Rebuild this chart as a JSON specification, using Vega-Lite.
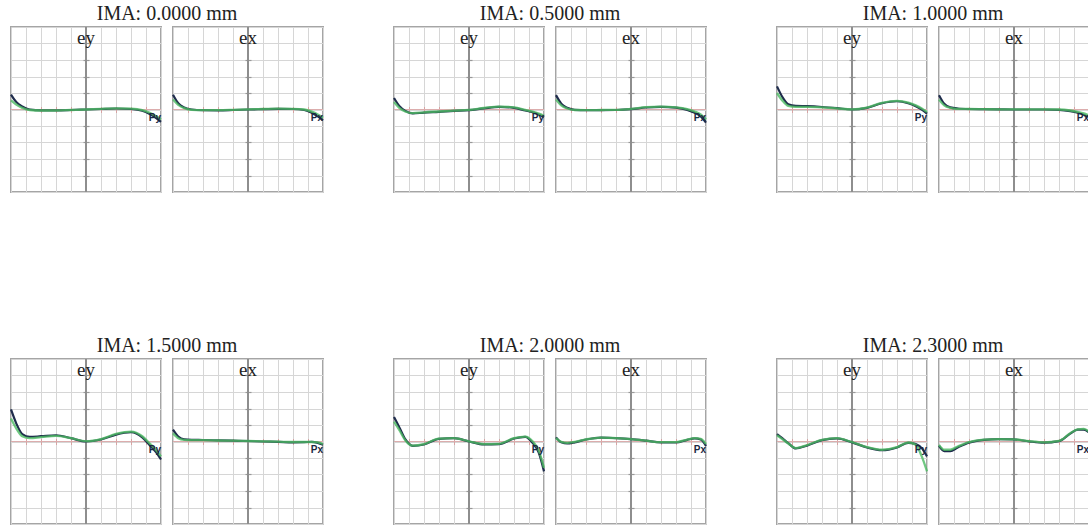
{
  "$schema": "https://vega.github.io/schema/vega-lite/v6.json",
  "background": "white",
  "padding": {"left": 5, "top": 4, "right": 0, "bottom": 0},
  "config": {
    "view": {"stroke": "#a5a5a5", "strokeWidth": 2},
    "header": {"labels": false, "labelPadding": 0, "titleFont": "Liberation Serif", "titleFontSize": 20, "titleFontWeight": "normal", "titleColor": "#222222", "titlePadding": -9},
    "axis": {"labels": false, "domain": false, "title": null, "minExtent": 0, "maxExtent": 0}
  },
  "data": {"values": [
    {"i":0,"f":"ey","w":"d","p":-1,"e":0.9},{"i":0,"f":"ey","w":"d","p":-0.93,"e":0.45},{"i":0,"f":"ey","w":"d","p":-0.85,"e":0.18},{"i":0,"f":"ey","w":"d","p":-0.75,"e":0.0},{"i":0,"f":"ey","w":"d","p":-0.6,"e":-0.05},{"i":0,"f":"ey","w":"d","p":-0.4,"e":-0.05},{"i":0,"f":"ey","w":"d","p":-0.2,"e":-0.03},{"i":0,"f":"ey","w":"d","p":0,"e":0.0},{"i":0,"f":"ey","w":"d","p":0.2,"e":0.03},{"i":0,"f":"ey","w":"d","p":0.4,"e":0.06},{"i":0,"f":"ey","w":"d","p":0.6,"e":0.03},{"i":0,"f":"ey","w":"d","p":0.75,"e":-0.08},{"i":0,"f":"ey","w":"d","p":0.85,"e":-0.28},{"i":0,"f":"ey","w":"d","p":0.93,"e":-0.5},{"i":0,"f":"ey","w":"d","p":1,"e":-0.75},
    {"i":0,"f":"ey","w":"g","p":-1,"e":0.55},{"i":0,"f":"ey","w":"g","p":-0.93,"e":0.3},{"i":0,"f":"ey","w":"g","p":-0.85,"e":0.1},{"i":0,"f":"ey","w":"g","p":-0.75,"e":-0.03},{"i":0,"f":"ey","w":"g","p":-0.6,"e":-0.06},{"i":0,"f":"ey","w":"g","p":-0.4,"e":-0.06},{"i":0,"f":"ey","w":"g","p":-0.2,"e":-0.03},{"i":0,"f":"ey","w":"g","p":0,"e":0.0},{"i":0,"f":"ey","w":"g","p":0.2,"e":0.04},{"i":0,"f":"ey","w":"g","p":0.4,"e":0.07},{"i":0,"f":"ey","w":"g","p":0.6,"e":0.05},{"i":0,"f":"ey","w":"g","p":0.75,"e":-0.04},{"i":0,"f":"ey","w":"g","p":0.85,"e":-0.2},{"i":0,"f":"ey","w":"g","p":0.93,"e":-0.4},{"i":0,"f":"ey","w":"g","p":1,"e":-0.6},
    {"i":0,"f":"ex","w":"d","p":-1,"e":0.9},{"i":0,"f":"ex","w":"d","p":-0.93,"e":0.38},{"i":0,"f":"ex","w":"d","p":-0.85,"e":0.12},{"i":0,"f":"ex","w":"d","p":-0.75,"e":0.0},{"i":0,"f":"ex","w":"d","p":-0.6,"e":-0.04},{"i":0,"f":"ex","w":"d","p":-0.4,"e":-0.05},{"i":0,"f":"ex","w":"d","p":-0.2,"e":-0.03},{"i":0,"f":"ex","w":"d","p":0,"e":0.0},{"i":0,"f":"ex","w":"d","p":0.2,"e":0.02},{"i":0,"f":"ex","w":"d","p":0.4,"e":0.04},{"i":0,"f":"ex","w":"d","p":0.6,"e":0.03},{"i":0,"f":"ex","w":"d","p":0.75,"e":-0.03},{"i":0,"f":"ex","w":"d","p":0.85,"e":-0.2},{"i":0,"f":"ex","w":"d","p":0.93,"e":-0.42},{"i":0,"f":"ex","w":"d","p":1,"e":-0.65},
    {"i":0,"f":"ex","w":"g","p":-1,"e":0.6},{"i":0,"f":"ex","w":"g","p":-0.93,"e":0.28},{"i":0,"f":"ex","w":"g","p":-0.85,"e":0.08},{"i":0,"f":"ex","w":"g","p":-0.75,"e":-0.02},{"i":0,"f":"ex","w":"g","p":-0.6,"e":-0.04},{"i":0,"f":"ex","w":"g","p":-0.4,"e":-0.04},{"i":0,"f":"ex","w":"g","p":-0.2,"e":-0.02},{"i":0,"f":"ex","w":"g","p":0,"e":0.01},{"i":0,"f":"ex","w":"g","p":0.2,"e":0.03},{"i":0,"f":"ex","w":"g","p":0.4,"e":0.05},{"i":0,"f":"ex","w":"g","p":0.6,"e":0.04},{"i":0,"f":"ex","w":"g","p":0.75,"e":0.0},{"i":0,"f":"ex","w":"g","p":0.85,"e":-0.13},{"i":0,"f":"ex","w":"g","p":0.93,"e":-0.3},{"i":0,"f":"ex","w":"g","p":1,"e":-0.5},

    {"i":0.5,"f":"ey","w":"d","p":-1,"e":0.7},{"i":0.5,"f":"ey","w":"d","p":-0.93,"e":0.22},{"i":0.5,"f":"ey","w":"d","p":-0.85,"e":-0.08},{"i":0.5,"f":"ey","w":"d","p":-0.75,"e":-0.24},{"i":0.5,"f":"ey","w":"d","p":-0.6,"e":-0.19},{"i":0.5,"f":"ey","w":"d","p":-0.4,"e":-0.14},{"i":0.5,"f":"ey","w":"d","p":-0.2,"e":-0.08},{"i":0.5,"f":"ey","w":"d","p":0,"e":-0.04},{"i":0.5,"f":"ey","w":"d","p":0.2,"e":0.07},{"i":0.5,"f":"ey","w":"d","p":0.4,"e":0.16},{"i":0.5,"f":"ey","w":"d","p":0.6,"e":0.1},{"i":0.5,"f":"ey","w":"d","p":0.75,"e":-0.06},{"i":0.5,"f":"ey","w":"d","p":0.85,"e":-0.17},{"i":0.5,"f":"ey","w":"d","p":0.93,"e":-0.3},{"i":0.5,"f":"ey","w":"d","p":1,"e":-0.45},
    {"i":0.5,"f":"ey","w":"g","p":-1,"e":0.45},{"i":0.5,"f":"ey","w":"g","p":-0.93,"e":0.1},{"i":0.5,"f":"ey","w":"g","p":-0.85,"e":-0.12},{"i":0.5,"f":"ey","w":"g","p":-0.75,"e":-0.22},{"i":0.5,"f":"ey","w":"g","p":-0.6,"e":-0.17},{"i":0.5,"f":"ey","w":"g","p":-0.4,"e":-0.12},{"i":0.5,"f":"ey","w":"g","p":-0.2,"e":-0.07},{"i":0.5,"f":"ey","w":"g","p":0,"e":-0.02},{"i":0.5,"f":"ey","w":"g","p":0.2,"e":0.09},{"i":0.5,"f":"ey","w":"g","p":0.4,"e":0.18},{"i":0.5,"f":"ey","w":"g","p":0.6,"e":0.13},{"i":0.5,"f":"ey","w":"g","p":0.75,"e":-0.02},{"i":0.5,"f":"ey","w":"g","p":0.85,"e":-0.13},{"i":0.5,"f":"ey","w":"g","p":0.93,"e":-0.25},{"i":0.5,"f":"ey","w":"g","p":1,"e":-0.38},
    {"i":0.5,"f":"ex","w":"d","p":-1,"e":0.87},{"i":0.5,"f":"ex","w":"d","p":-0.93,"e":0.35},{"i":0.5,"f":"ex","w":"d","p":-0.85,"e":0.1},{"i":0.5,"f":"ex","w":"d","p":-0.75,"e":-0.02},{"i":0.5,"f":"ex","w":"d","p":-0.6,"e":-0.04},{"i":0.5,"f":"ex","w":"d","p":-0.4,"e":-0.04},{"i":0.5,"f":"ex","w":"d","p":-0.2,"e":-0.03},{"i":0.5,"f":"ex","w":"d","p":0,"e":0.02},{"i":0.5,"f":"ex","w":"d","p":0.2,"e":0.12},{"i":0.5,"f":"ex","w":"d","p":0.4,"e":0.16},{"i":0.5,"f":"ex","w":"d","p":0.6,"e":0.11},{"i":0.5,"f":"ex","w":"d","p":0.75,"e":-0.02},{"i":0.5,"f":"ex","w":"d","p":0.85,"e":-0.2},{"i":0.5,"f":"ex","w":"d","p":0.93,"e":-0.42},{"i":0.5,"f":"ex","w":"d","p":1,"e":-0.8},
    {"i":0.5,"f":"ex","w":"g","p":-1,"e":0.6},{"i":0.5,"f":"ex","w":"g","p":-0.93,"e":0.25},{"i":0.5,"f":"ex","w":"g","p":-0.85,"e":0.06},{"i":0.5,"f":"ex","w":"g","p":-0.75,"e":-0.03},{"i":0.5,"f":"ex","w":"g","p":-0.6,"e":-0.04},{"i":0.5,"f":"ex","w":"g","p":-0.4,"e":-0.03},{"i":0.5,"f":"ex","w":"g","p":-0.2,"e":-0.02},{"i":0.5,"f":"ex","w":"g","p":0,"e":0.04},{"i":0.5,"f":"ex","w":"g","p":0.2,"e":0.14},{"i":0.5,"f":"ex","w":"g","p":0.4,"e":0.18},{"i":0.5,"f":"ex","w":"g","p":0.6,"e":0.13},{"i":0.5,"f":"ex","w":"g","p":0.75,"e":0.02},{"i":0.5,"f":"ex","w":"g","p":0.85,"e":-0.12},{"i":0.5,"f":"ex","w":"g","p":0.93,"e":-0.3},{"i":0.5,"f":"ex","w":"g","p":1,"e":-0.6},

    {"i":1,"f":"ey","w":"d","p":-1,"e":1.4},{"i":1,"f":"ey","w":"d","p":-0.93,"e":0.77},{"i":1,"f":"ey","w":"d","p":-0.85,"e":0.32},{"i":1,"f":"ey","w":"d","p":-0.75,"e":0.22},{"i":1,"f":"ey","w":"d","p":-0.6,"e":0.2},{"i":1,"f":"ey","w":"d","p":-0.4,"e":0.15},{"i":1,"f":"ey","w":"d","p":-0.2,"e":0.08},{"i":1,"f":"ey","w":"d","p":0,"e":0.0},{"i":1,"f":"ey","w":"d","p":0.2,"e":0.1},{"i":1,"f":"ey","w":"d","p":0.4,"e":0.38},{"i":1,"f":"ey","w":"d","p":0.6,"e":0.5},{"i":1,"f":"ey","w":"d","p":0.75,"e":0.38},{"i":1,"f":"ey","w":"d","p":0.85,"e":0.2},{"i":1,"f":"ey","w":"d","p":0.93,"e":0.0},{"i":1,"f":"ey","w":"d","p":1,"e":-0.25},
    {"i":1,"f":"ey","w":"g","p":-1,"e":1.0},{"i":1,"f":"ey","w":"g","p":-0.93,"e":0.55},{"i":1,"f":"ey","w":"g","p":-0.85,"e":0.22},{"i":1,"f":"ey","w":"g","p":-0.75,"e":0.16},{"i":1,"f":"ey","w":"g","p":-0.6,"e":0.16},{"i":1,"f":"ey","w":"g","p":-0.4,"e":0.13},{"i":1,"f":"ey","w":"g","p":-0.2,"e":0.07},{"i":1,"f":"ey","w":"g","p":0,"e":0.01},{"i":1,"f":"ey","w":"g","p":0.2,"e":0.12},{"i":1,"f":"ey","w":"g","p":0.4,"e":0.4},{"i":1,"f":"ey","w":"g","p":0.6,"e":0.52},{"i":1,"f":"ey","w":"g","p":0.75,"e":0.42},{"i":1,"f":"ey","w":"g","p":0.85,"e":0.25},{"i":1,"f":"ey","w":"g","p":0.93,"e":0.06},{"i":1,"f":"ey","w":"g","p":1,"e":-0.15},
    {"i":1,"f":"ex","w":"d","p":-1,"e":0.87},{"i":1,"f":"ex","w":"d","p":-0.93,"e":0.35},{"i":1,"f":"ex","w":"d","p":-0.85,"e":0.13},{"i":1,"f":"ex","w":"d","p":-0.75,"e":0.06},{"i":1,"f":"ex","w":"d","p":-0.6,"e":0.03},{"i":1,"f":"ex","w":"d","p":-0.4,"e":0.02},{"i":1,"f":"ex","w":"d","p":-0.2,"e":0.01},{"i":1,"f":"ex","w":"d","p":0,"e":0.0},{"i":1,"f":"ex","w":"d","p":0.2,"e":0.0},{"i":1,"f":"ex","w":"d","p":0.4,"e":0.0},{"i":1,"f":"ex","w":"d","p":0.6,"e":-0.02},{"i":1,"f":"ex","w":"d","p":0.75,"e":-0.1},{"i":1,"f":"ex","w":"d","p":0.85,"e":-0.2},{"i":1,"f":"ex","w":"d","p":0.93,"e":-0.32},{"i":1,"f":"ex","w":"d","p":1,"e":-0.45},
    {"i":1,"f":"ex","w":"g","p":-1,"e":0.6},{"i":1,"f":"ex","w":"g","p":-0.93,"e":0.25},{"i":1,"f":"ex","w":"g","p":-0.85,"e":0.1},{"i":1,"f":"ex","w":"g","p":-0.75,"e":0.04},{"i":1,"f":"ex","w":"g","p":-0.6,"e":0.03},{"i":1,"f":"ex","w":"g","p":-0.4,"e":0.02},{"i":1,"f":"ex","w":"g","p":-0.2,"e":0.01},{"i":1,"f":"ex","w":"g","p":0,"e":0.01},{"i":1,"f":"ex","w":"g","p":0.2,"e":0.01},{"i":1,"f":"ex","w":"g","p":0.4,"e":0.01},{"i":1,"f":"ex","w":"g","p":0.6,"e":0.0},{"i":1,"f":"ex","w":"g","p":0.75,"e":-0.06},{"i":1,"f":"ex","w":"g","p":0.85,"e":-0.14},{"i":1,"f":"ex","w":"g","p":0.93,"e":-0.24},{"i":1,"f":"ex","w":"g","p":1,"e":-0.35},

    {"i":1.5,"f":"ey","w":"d","p":-1,"e":1.94},{"i":1.5,"f":"ey","w":"d","p":-0.93,"e":1.1},{"i":1.5,"f":"ey","w":"d","p":-0.85,"e":0.45},{"i":1.5,"f":"ey","w":"d","p":-0.75,"e":0.28},{"i":1.5,"f":"ey","w":"d","p":-0.6,"e":0.32},{"i":1.5,"f":"ey","w":"d","p":-0.4,"e":0.38},{"i":1.5,"f":"ey","w":"d","p":-0.2,"e":0.2},{"i":1.5,"f":"ey","w":"d","p":0,"e":0.0},{"i":1.5,"f":"ey","w":"d","p":0.2,"e":0.12},{"i":1.5,"f":"ey","w":"d","p":0.4,"e":0.42},{"i":1.5,"f":"ey","w":"d","p":0.6,"e":0.56},{"i":1.5,"f":"ey","w":"d","p":0.75,"e":0.25},{"i":1.5,"f":"ey","w":"d","p":0.85,"e":-0.22},{"i":1.5,"f":"ey","w":"d","p":0.93,"e":-0.62},{"i":1.5,"f":"ey","w":"d","p":1,"e":-1.09},
    {"i":1.5,"f":"ey","w":"g","p":-1,"e":1.4},{"i":1.5,"f":"ey","w":"g","p":-0.93,"e":0.8},{"i":1.5,"f":"ey","w":"g","p":-0.85,"e":0.32},{"i":1.5,"f":"ey","w":"g","p":-0.75,"e":0.2},{"i":1.5,"f":"ey","w":"g","p":-0.6,"e":0.26},{"i":1.5,"f":"ey","w":"g","p":-0.4,"e":0.34},{"i":1.5,"f":"ey","w":"g","p":-0.2,"e":0.2},{"i":1.5,"f":"ey","w":"g","p":0,"e":0.02},{"i":1.5,"f":"ey","w":"g","p":0.2,"e":0.15},{"i":1.5,"f":"ey","w":"g","p":0.4,"e":0.46},{"i":1.5,"f":"ey","w":"g","p":0.6,"e":0.6},{"i":1.5,"f":"ey","w":"g","p":0.75,"e":0.32},{"i":1.5,"f":"ey","w":"g","p":0.85,"e":-0.12},{"i":1.5,"f":"ey","w":"g","p":0.93,"e":-0.5},{"i":1.5,"f":"ey","w":"g","p":1,"e":-0.9},
    {"i":1.5,"f":"ex","w":"d","p":-1,"e":0.72},{"i":1.5,"f":"ex","w":"d","p":-0.93,"e":0.3},{"i":1.5,"f":"ex","w":"d","p":-0.85,"e":0.13},{"i":1.5,"f":"ex","w":"d","p":-0.75,"e":0.1},{"i":1.5,"f":"ex","w":"d","p":-0.6,"e":0.09},{"i":1.5,"f":"ex","w":"d","p":-0.4,"e":0.07},{"i":1.5,"f":"ex","w":"d","p":-0.2,"e":0.05},{"i":1.5,"f":"ex","w":"d","p":0,"e":0.03},{"i":1.5,"f":"ex","w":"d","p":0.2,"e":0.0},{"i":1.5,"f":"ex","w":"d","p":0.4,"e":-0.02},{"i":1.5,"f":"ex","w":"d","p":0.6,"e":-0.05},{"i":1.5,"f":"ex","w":"d","p":0.75,"e":-0.04},{"i":1.5,"f":"ex","w":"d","p":0.85,"e":-0.02},{"i":1.5,"f":"ex","w":"d","p":0.93,"e":-0.08},{"i":1.5,"f":"ex","w":"d","p":1,"e":-0.2},
    {"i":1.5,"f":"ex","w":"g","p":-1,"e":0.5},{"i":1.5,"f":"ex","w":"g","p":-0.93,"e":0.2},{"i":1.5,"f":"ex","w":"g","p":-0.85,"e":0.1},{"i":1.5,"f":"ex","w":"g","p":-0.75,"e":0.08},{"i":1.5,"f":"ex","w":"g","p":-0.6,"e":0.08},{"i":1.5,"f":"ex","w":"g","p":-0.4,"e":0.06},{"i":1.5,"f":"ex","w":"g","p":-0.2,"e":0.05},{"i":1.5,"f":"ex","w":"g","p":0,"e":0.03},{"i":1.5,"f":"ex","w":"g","p":0.2,"e":0.01},{"i":1.5,"f":"ex","w":"g","p":0.4,"e":-0.01},{"i":1.5,"f":"ex","w":"g","p":0.6,"e":-0.03},{"i":1.5,"f":"ex","w":"g","p":0.75,"e":-0.03},{"i":1.5,"f":"ex","w":"g","p":0.85,"e":-0.03},{"i":1.5,"f":"ex","w":"g","p":0.93,"e":-0.06},{"i":1.5,"f":"ex","w":"g","p":1,"e":-0.15},

    {"i":2,"f":"ey","w":"d","p":-1,"e":1.48},{"i":2,"f":"ey","w":"d","p":-0.93,"e":0.87},{"i":2,"f":"ey","w":"d","p":-0.85,"e":0.14},{"i":2,"f":"ey","w":"d","p":-0.75,"e":-0.26},{"i":2,"f":"ey","w":"d","p":-0.6,"e":-0.18},{"i":2,"f":"ey","w":"d","p":-0.4,"e":0.16},{"i":2,"f":"ey","w":"d","p":-0.2,"e":0.2},{"i":2,"f":"ey","w":"d","p":0,"e":0.0},{"i":2,"f":"ey","w":"d","p":0.2,"e":-0.18},{"i":2,"f":"ey","w":"d","p":0.4,"e":-0.16},{"i":2,"f":"ey","w":"d","p":0.6,"e":0.18},{"i":2,"f":"ey","w":"d","p":0.75,"e":0.28},{"i":2,"f":"ey","w":"d","p":0.85,"e":-0.1},{"i":2,"f":"ey","w":"d","p":0.93,"e":-0.68},{"i":2,"f":"ey","w":"d","p":1,"e":-1.81},
    {"i":2,"f":"ey","w":"g","p":-1,"e":1.2},{"i":2,"f":"ey","w":"g","p":-0.93,"e":0.7},{"i":2,"f":"ey","w":"g","p":-0.85,"e":0.08},{"i":2,"f":"ey","w":"g","p":-0.75,"e":-0.25},{"i":2,"f":"ey","w":"g","p":-0.6,"e":-0.16},{"i":2,"f":"ey","w":"g","p":-0.4,"e":0.17},{"i":2,"f":"ey","w":"g","p":-0.2,"e":0.2},{"i":2,"f":"ey","w":"g","p":0,"e":0.01},{"i":2,"f":"ey","w":"g","p":0.2,"e":-0.16},{"i":2,"f":"ey","w":"g","p":0.4,"e":-0.14},{"i":2,"f":"ey","w":"g","p":0.6,"e":0.2},{"i":2,"f":"ey","w":"g","p":0.75,"e":0.3},{"i":2,"f":"ey","w":"g","p":0.85,"e":0.0},{"i":2,"f":"ey","w":"g","p":0.93,"e":-0.55},{"i":2,"f":"ey","w":"g","p":1,"e":-1.6},
    {"i":2,"f":"ex","w":"d","p":-1,"e":0.25},{"i":2,"f":"ex","w":"d","p":-0.93,"e":-0.05},{"i":2,"f":"ex","w":"d","p":-0.85,"e":-0.12},{"i":2,"f":"ex","w":"d","p":-0.75,"e":-0.05},{"i":2,"f":"ex","w":"d","p":-0.6,"e":0.12},{"i":2,"f":"ex","w":"d","p":-0.4,"e":0.24},{"i":2,"f":"ex","w":"d","p":-0.2,"e":0.2},{"i":2,"f":"ex","w":"d","p":0,"e":0.14},{"i":2,"f":"ex","w":"d","p":0.2,"e":0.05},{"i":2,"f":"ex","w":"d","p":0.4,"e":-0.05},{"i":2,"f":"ex","w":"d","p":0.6,"e":-0.06},{"i":2,"f":"ex","w":"d","p":0.75,"e":0.1},{"i":2,"f":"ex","w":"d","p":0.85,"e":0.19},{"i":2,"f":"ex","w":"d","p":0.93,"e":0.12},{"i":2,"f":"ex","w":"d","p":1,"e":-0.27},
    {"i":2,"f":"ex","w":"g","p":-1,"e":0.2},{"i":2,"f":"ex","w":"g","p":-0.93,"e":-0.02},{"i":2,"f":"ex","w":"g","p":-0.85,"e":-0.08},{"i":2,"f":"ex","w":"g","p":-0.75,"e":-0.02},{"i":2,"f":"ex","w":"g","p":-0.6,"e":0.13},{"i":2,"f":"ex","w":"g","p":-0.4,"e":0.24},{"i":2,"f":"ex","w":"g","p":-0.2,"e":0.2},{"i":2,"f":"ex","w":"g","p":0,"e":0.14},{"i":2,"f":"ex","w":"g","p":0.2,"e":0.05},{"i":2,"f":"ex","w":"g","p":0.4,"e":-0.04},{"i":2,"f":"ex","w":"g","p":0.6,"e":-0.04},{"i":2,"f":"ex","w":"g","p":0.75,"e":0.12},{"i":2,"f":"ex","w":"g","p":0.85,"e":0.2},{"i":2,"f":"ex","w":"g","p":0.93,"e":0.16},{"i":2,"f":"ex","w":"g","p":1,"e":-0.15},

    {"i":2.3,"f":"ey","w":"d","p":-1,"e":0.45},{"i":2.3,"f":"ey","w":"d","p":-0.93,"e":0.2},{"i":2.3,"f":"ey","w":"d","p":-0.85,"e":-0.1},{"i":2.3,"f":"ey","w":"d","p":-0.75,"e":-0.42},{"i":2.3,"f":"ey","w":"d","p":-0.6,"e":-0.25},{"i":2.3,"f":"ey","w":"d","p":-0.4,"e":0.08},{"i":2.3,"f":"ey","w":"d","p":-0.2,"e":0.19},{"i":2.3,"f":"ey","w":"d","p":0,"e":-0.05},{"i":2.3,"f":"ey","w":"d","p":0.2,"e":-0.36},{"i":2.3,"f":"ey","w":"d","p":0.4,"e":-0.53},{"i":2.3,"f":"ey","w":"d","p":0.6,"e":-0.36},{"i":2.3,"f":"ey","w":"d","p":0.75,"e":-0.08},{"i":2.3,"f":"ey","w":"d","p":0.85,"e":-0.15},{"i":2.3,"f":"ey","w":"d","p":0.93,"e":-0.4},{"i":2.3,"f":"ey","w":"d","p":1,"e":-0.9},
    {"i":2.3,"f":"ey","w":"g","p":-1,"e":0.38},{"i":2.3,"f":"ey","w":"g","p":-0.93,"e":0.15},{"i":2.3,"f":"ey","w":"g","p":-0.85,"e":-0.12},{"i":2.3,"f":"ey","w":"g","p":-0.75,"e":-0.4},{"i":2.3,"f":"ey","w":"g","p":-0.6,"e":-0.22},{"i":2.3,"f":"ey","w":"g","p":-0.4,"e":0.1},{"i":2.3,"f":"ey","w":"g","p":-0.2,"e":0.2},{"i":2.3,"f":"ey","w":"g","p":0,"e":-0.04},{"i":2.3,"f":"ey","w":"g","p":0.2,"e":-0.34},{"i":2.3,"f":"ey","w":"g","p":0.4,"e":-0.5},{"i":2.3,"f":"ey","w":"g","p":0.6,"e":-0.34},{"i":2.3,"f":"ey","w":"g","p":0.75,"e":-0.06},{"i":2.3,"f":"ey","w":"g","p":0.85,"e":-0.2},{"i":2.3,"f":"ey","w":"g","p":0.93,"e":-0.9},{"i":2.3,"f":"ey","w":"g","p":1,"e":-1.81},
    {"i":2.3,"f":"ex","w":"d","p":-1,"e":-0.27},{"i":2.3,"f":"ex","w":"d","p":-0.93,"e":-0.58},{"i":2.3,"f":"ex","w":"d","p":-0.85,"e":-0.58},{"i":2.3,"f":"ex","w":"d","p":-0.75,"e":-0.36},{"i":2.3,"f":"ex","w":"d","p":-0.6,"e":-0.07},{"i":2.3,"f":"ex","w":"d","p":-0.4,"e":0.1},{"i":2.3,"f":"ex","w":"d","p":-0.2,"e":0.15},{"i":2.3,"f":"ex","w":"d","p":0,"e":0.13},{"i":2.3,"f":"ex","w":"d","p":0.2,"e":0.01},{"i":2.3,"f":"ex","w":"d","p":0.4,"e":-0.07},{"i":2.3,"f":"ex","w":"d","p":0.6,"e":0.02},{"i":2.3,"f":"ex","w":"d","p":0.75,"e":0.48},{"i":2.3,"f":"ex","w":"d","p":0.85,"e":0.72},{"i":2.3,"f":"ex","w":"d","p":0.93,"e":0.72},{"i":2.3,"f":"ex","w":"d","p":1,"e":0.55},
    {"i":2.3,"f":"ex","w":"g","p":-1,"e":-0.2},{"i":2.3,"f":"ex","w":"g","p":-0.93,"e":-0.5},{"i":2.3,"f":"ex","w":"g","p":-0.85,"e":-0.5},{"i":2.3,"f":"ex","w":"g","p":-0.75,"e":-0.3},{"i":2.3,"f":"ex","w":"g","p":-0.6,"e":-0.04},{"i":2.3,"f":"ex","w":"g","p":-0.4,"e":0.11},{"i":2.3,"f":"ex","w":"g","p":-0.2,"e":0.15},{"i":2.3,"f":"ex","w":"g","p":0,"e":0.13},{"i":2.3,"f":"ex","w":"g","p":0.2,"e":0.02},{"i":2.3,"f":"ex","w":"g","p":0.4,"e":-0.05},{"i":2.3,"f":"ex","w":"g","p":0.6,"e":0.04},{"i":2.3,"f":"ex","w":"g","p":0.75,"e":0.5},{"i":2.3,"f":"ex","w":"g","p":0.85,"e":0.74},{"i":2.3,"f":"ex","w":"g","p":0.93,"e":0.76},{"i":2.3,"f":"ex","w":"g","p":1,"e":0.6}
  ]},
  "spacing": 142,
  "vconcat": [
    {"spacing": 59, "hconcat": [
      {"transform": [{"filter": "datum.i == 0"}], "facet": {"column": {"field": "f", "type": "nominal", "sort": ["ey", "ex"], "title": "IMA: 0.0000 mm"}}, "spacing": {"column": 0}, "resolve": {"axis": {"x": "independent", "y": "independent"}},
       "spec": {"width": 150, "height": 165, "resolve": {"axis": {"x": "independent", "y": "independent"}}, "layer": [
        {"transform": [{"filter": "datum.w == 'd' && datum.p == 1"}], "mark": {"type": "rule", "color": "#dcadad", "strokeWidth": 1.2}, "encoding": {"y": {"datum": 0, "type": "quantitative", "scale": {"domain": [-5, 5], "nice": false}, "axis": null}}},
        {"transform": [{"filter": "datum.w == 'd' && datum.p == 1"}], "mark": {"type": "rule", "color": "#8e8e8e", "strokeWidth": 2}, "encoding": {"x": {"datum": 0, "type": "quantitative", "scale": {"domain": [-1, 1], "nice": false}, "axis": null}}},
        {"transform": [{"filter": "datum.w == 'd'"}], "mark": {"type": "line", "color": "#1f2c4c", "strokeWidth": 2.2, "interpolate": "monotone"}, "encoding": {"x": {"field": "p", "type": "quantitative", "scale": {"domain": [-1, 1], "nice": false}, "axis": {"orient": "bottom", "values": [-1, -0.8, -0.6, -0.4, -0.2, 0, 0.2, 0.4, 0.6, 0.8, 1], "grid": true, "gridColor": "#d6d6d6", "ticks": false}}, "y": {"field": "e", "type": "quantitative", "scale": {"domain": [-5, 5], "nice": false}, "axis": {"orient": "left", "values": [-5, -4, -3, -2, -1, 0, 1, 2, 3, 4, 5], "grid": true, "gridColor": "#d6d6d6", "ticks": false}}}},
        {"transform": [{"filter": "datum.w == 'g'"}], "mark": {"type": "line", "color": "#4cba63", "strokeWidth": 2.3, "opacity": 0.8, "interpolate": "monotone"}, "encoding": {"x": {"field": "p", "type": "quantitative", "scale": {"domain": [-1, 1], "nice": false}, "axis": {"orient": "top", "values": [-0.8, -0.6, -0.4, -0.2, 0.2, 0.4, 0.6, 0.8], "grid": false, "ticks": true, "tickSize": 6, "tickColor": "#d7a3a3", "offset": -85.5}}, "y": {"field": "e", "type": "quantitative", "scale": {"domain": [-5, 5], "nice": false}, "axis": {"orient": "right", "values": [-4, -3, -2, -1, 1, 2, 3, 4], "grid": false, "ticks": true, "tickSize": 6, "tickWidth": 1.2, "tickColor": "#999999", "offset": -78}}}},
        {"transform": [{"filter": "datum.w == 'd' && datum.p == 1"}], "mark": {"type": "text", "font": "Liberation Serif", "fontSize": 19, "color": "#222222", "baseline": "alphabetic"}, "encoding": {"x": {"datum": 0, "type": "quantitative", "scale": {"domain": [-1, 1], "nice": false}, "axis": null}, "y": {"datum": 3.95, "type": "quantitative", "scale": {"domain": [-5, 5], "nice": false}, "axis": null}, "text": {"field": "f"}}},
        {"transform": [{"filter": "datum.w == 'd' && datum.p == 1"}, {"calculate": "datum.f == 'ey' ? 'Py' : 'Px'", "as": "a"}], "mark": {"type": "text", "font": "Liberation Sans", "fontWeight": "bold", "fontSize": 10, "color": "#1c2742", "align": "right", "baseline": "top"}, "encoding": {"x": {"datum": 1, "type": "quantitative", "scale": {"domain": [-1, 1], "nice": false}, "axis": null}, "y": {"datum": -0.2, "type": "quantitative", "scale": {"domain": [-5, 5], "nice": false}, "axis": null}, "text": {"field": "a"}}}
       ]}},
      {"transform": [{"filter": "datum.i == 0.5"}], "facet": {"column": {"field": "f", "type": "nominal", "sort": ["ey", "ex"], "title": "IMA: 0.5000 mm"}}, "spacing": {"column": 0}, "resolve": {"axis": {"x": "independent", "y": "independent"}},
       "spec": {"width": 150, "height": 165, "resolve": {"axis": {"x": "independent", "y": "independent"}}, "layer": [
        {"transform": [{"filter": "datum.w == 'd' && datum.p == 1"}], "mark": {"type": "rule", "color": "#dcadad", "strokeWidth": 1.2}, "encoding": {"y": {"datum": 0, "type": "quantitative", "scale": {"domain": [-5, 5], "nice": false}, "axis": null}}},
        {"transform": [{"filter": "datum.w == 'd' && datum.p == 1"}], "mark": {"type": "rule", "color": "#8e8e8e", "strokeWidth": 2}, "encoding": {"x": {"datum": 0, "type": "quantitative", "scale": {"domain": [-1, 1], "nice": false}, "axis": null}}},
        {"transform": [{"filter": "datum.w == 'd'"}], "mark": {"type": "line", "color": "#1f2c4c", "strokeWidth": 2.2, "interpolate": "monotone"}, "encoding": {"x": {"field": "p", "type": "quantitative", "scale": {"domain": [-1, 1], "nice": false}, "axis": {"orient": "bottom", "values": [-1, -0.8, -0.6, -0.4, -0.2, 0, 0.2, 0.4, 0.6, 0.8, 1], "grid": true, "gridColor": "#d6d6d6", "ticks": false}}, "y": {"field": "e", "type": "quantitative", "scale": {"domain": [-5, 5], "nice": false}, "axis": {"orient": "left", "values": [-5, -4, -3, -2, -1, 0, 1, 2, 3, 4, 5], "grid": true, "gridColor": "#d6d6d6", "ticks": false}}}},
        {"transform": [{"filter": "datum.w == 'g'"}], "mark": {"type": "line", "color": "#4cba63", "strokeWidth": 2.3, "opacity": 0.8, "interpolate": "monotone"}, "encoding": {"x": {"field": "p", "type": "quantitative", "scale": {"domain": [-1, 1], "nice": false}, "axis": {"orient": "top", "values": [-0.8, -0.6, -0.4, -0.2, 0.2, 0.4, 0.6, 0.8], "grid": false, "ticks": true, "tickSize": 6, "tickColor": "#d7a3a3", "offset": -85.5}}, "y": {"field": "e", "type": "quantitative", "scale": {"domain": [-5, 5], "nice": false}, "axis": {"orient": "right", "values": [-4, -3, -2, -1, 1, 2, 3, 4], "grid": false, "ticks": true, "tickSize": 6, "tickWidth": 1.2, "tickColor": "#999999", "offset": -78}}}},
        {"transform": [{"filter": "datum.w == 'd' && datum.p == 1"}], "mark": {"type": "text", "font": "Liberation Serif", "fontSize": 19, "color": "#222222", "baseline": "alphabetic"}, "encoding": {"x": {"datum": 0, "type": "quantitative", "scale": {"domain": [-1, 1], "nice": false}, "axis": null}, "y": {"datum": 3.95, "type": "quantitative", "scale": {"domain": [-5, 5], "nice": false}, "axis": null}, "text": {"field": "f"}}},
        {"transform": [{"filter": "datum.w == 'd' && datum.p == 1"}, {"calculate": "datum.f == 'ey' ? 'Py' : 'Px'", "as": "a"}], "mark": {"type": "text", "font": "Liberation Sans", "fontWeight": "bold", "fontSize": 10, "color": "#1c2742", "align": "right", "baseline": "top"}, "encoding": {"x": {"datum": 1, "type": "quantitative", "scale": {"domain": [-1, 1], "nice": false}, "axis": null}, "y": {"datum": -0.2, "type": "quantitative", "scale": {"domain": [-5, 5], "nice": false}, "axis": null}, "text": {"field": "a"}}}
       ]}},
      {"transform": [{"filter": "datum.i == 1"}], "facet": {"column": {"field": "f", "type": "nominal", "sort": ["ey", "ex"], "title": "IMA: 1.0000 mm"}}, "spacing": {"column": 0}, "resolve": {"axis": {"x": "independent", "y": "independent"}},
       "spec": {"width": 150, "height": 165, "resolve": {"axis": {"x": "independent", "y": "independent"}}, "layer": [
        {"transform": [{"filter": "datum.w == 'd' && datum.p == 1"}], "mark": {"type": "rule", "color": "#dcadad", "strokeWidth": 1.2}, "encoding": {"y": {"datum": 0, "type": "quantitative", "scale": {"domain": [-5, 5], "nice": false}, "axis": null}}},
        {"transform": [{"filter": "datum.w == 'd' && datum.p == 1"}], "mark": {"type": "rule", "color": "#8e8e8e", "strokeWidth": 2}, "encoding": {"x": {"datum": 0, "type": "quantitative", "scale": {"domain": [-1, 1], "nice": false}, "axis": null}}},
        {"transform": [{"filter": "datum.w == 'd'"}], "mark": {"type": "line", "color": "#1f2c4c", "strokeWidth": 2.2, "interpolate": "monotone"}, "encoding": {"x": {"field": "p", "type": "quantitative", "scale": {"domain": [-1, 1], "nice": false}, "axis": {"orient": "bottom", "values": [-1, -0.8, -0.6, -0.4, -0.2, 0, 0.2, 0.4, 0.6, 0.8, 1], "grid": true, "gridColor": "#d6d6d6", "ticks": false}}, "y": {"field": "e", "type": "quantitative", "scale": {"domain": [-5, 5], "nice": false}, "axis": {"orient": "left", "values": [-5, -4, -3, -2, -1, 0, 1, 2, 3, 4, 5], "grid": true, "gridColor": "#d6d6d6", "ticks": false}}}},
        {"transform": [{"filter": "datum.w == 'g'"}], "mark": {"type": "line", "color": "#4cba63", "strokeWidth": 2.3, "opacity": 0.8, "interpolate": "monotone"}, "encoding": {"x": {"field": "p", "type": "quantitative", "scale": {"domain": [-1, 1], "nice": false}, "axis": {"orient": "top", "values": [-0.8, -0.6, -0.4, -0.2, 0.2, 0.4, 0.6, 0.8], "grid": false, "ticks": true, "tickSize": 6, "tickColor": "#d7a3a3", "offset": -85.5}}, "y": {"field": "e", "type": "quantitative", "scale": {"domain": [-5, 5], "nice": false}, "axis": {"orient": "right", "values": [-4, -3, -2, -1, 1, 2, 3, 4], "grid": false, "ticks": true, "tickSize": 6, "tickWidth": 1.2, "tickColor": "#999999", "offset": -78}}}},
        {"transform": [{"filter": "datum.w == 'd' && datum.p == 1"}], "mark": {"type": "text", "font": "Liberation Serif", "fontSize": 19, "color": "#222222", "baseline": "alphabetic"}, "encoding": {"x": {"datum": 0, "type": "quantitative", "scale": {"domain": [-1, 1], "nice": false}, "axis": null}, "y": {"datum": 3.95, "type": "quantitative", "scale": {"domain": [-5, 5], "nice": false}, "axis": null}, "text": {"field": "f"}}},
        {"transform": [{"filter": "datum.w == 'd' && datum.p == 1"}, {"calculate": "datum.f == 'ey' ? 'Py' : 'Px'", "as": "a"}], "mark": {"type": "text", "font": "Liberation Sans", "fontWeight": "bold", "fontSize": 10, "color": "#1c2742", "align": "right", "baseline": "top"}, "encoding": {"x": {"datum": 1, "type": "quantitative", "scale": {"domain": [-1, 1], "nice": false}, "axis": null}, "y": {"datum": -0.2, "type": "quantitative", "scale": {"domain": [-5, 5], "nice": false}, "axis": null}, "text": {"field": "a"}}}
       ]}}
    ]},
    {"spacing": 59, "hconcat": [
      {"transform": [{"filter": "datum.i == 1.5"}], "facet": {"column": {"field": "f", "type": "nominal", "sort": ["ey", "ex"], "title": "IMA: 1.5000 mm"}}, "spacing": {"column": 0}, "resolve": {"axis": {"x": "independent", "y": "independent"}},
       "spec": {"width": 150, "height": 165, "resolve": {"axis": {"x": "independent", "y": "independent"}}, "layer": [
        {"transform": [{"filter": "datum.w == 'd' && datum.p == 1"}], "mark": {"type": "rule", "color": "#dcadad", "strokeWidth": 1.2}, "encoding": {"y": {"datum": 0, "type": "quantitative", "scale": {"domain": [-5, 5], "nice": false}, "axis": null}}},
        {"transform": [{"filter": "datum.w == 'd' && datum.p == 1"}], "mark": {"type": "rule", "color": "#8e8e8e", "strokeWidth": 2}, "encoding": {"x": {"datum": 0, "type": "quantitative", "scale": {"domain": [-1, 1], "nice": false}, "axis": null}}},
        {"transform": [{"filter": "datum.w == 'd'"}], "mark": {"type": "line", "color": "#1f2c4c", "strokeWidth": 2.2, "interpolate": "monotone"}, "encoding": {"x": {"field": "p", "type": "quantitative", "scale": {"domain": [-1, 1], "nice": false}, "axis": {"orient": "bottom", "values": [-1, -0.8, -0.6, -0.4, -0.2, 0, 0.2, 0.4, 0.6, 0.8, 1], "grid": true, "gridColor": "#d6d6d6", "ticks": false}}, "y": {"field": "e", "type": "quantitative", "scale": {"domain": [-5, 5], "nice": false}, "axis": {"orient": "left", "values": [-5, -4, -3, -2, -1, 0, 1, 2, 3, 4, 5], "grid": true, "gridColor": "#d6d6d6", "ticks": false}}}},
        {"transform": [{"filter": "datum.w == 'g'"}], "mark": {"type": "line", "color": "#4cba63", "strokeWidth": 2.3, "opacity": 0.8, "interpolate": "monotone"}, "encoding": {"x": {"field": "p", "type": "quantitative", "scale": {"domain": [-1, 1], "nice": false}, "axis": {"orient": "top", "values": [-0.8, -0.6, -0.4, -0.2, 0.2, 0.4, 0.6, 0.8], "grid": false, "ticks": true, "tickSize": 6, "tickColor": "#d7a3a3", "offset": -85.5}}, "y": {"field": "e", "type": "quantitative", "scale": {"domain": [-5, 5], "nice": false}, "axis": {"orient": "right", "values": [-4, -3, -2, -1, 1, 2, 3, 4], "grid": false, "ticks": true, "tickSize": 6, "tickWidth": 1.2, "tickColor": "#999999", "offset": -78}}}},
        {"transform": [{"filter": "datum.w == 'd' && datum.p == 1"}], "mark": {"type": "text", "font": "Liberation Serif", "fontSize": 19, "color": "#222222", "baseline": "alphabetic"}, "encoding": {"x": {"datum": 0, "type": "quantitative", "scale": {"domain": [-1, 1], "nice": false}, "axis": null}, "y": {"datum": 3.95, "type": "quantitative", "scale": {"domain": [-5, 5], "nice": false}, "axis": null}, "text": {"field": "f"}}},
        {"transform": [{"filter": "datum.w == 'd' && datum.p == 1"}, {"calculate": "datum.f == 'ey' ? 'Py' : 'Px'", "as": "a"}], "mark": {"type": "text", "font": "Liberation Sans", "fontWeight": "bold", "fontSize": 10, "color": "#1c2742", "align": "right", "baseline": "top"}, "encoding": {"x": {"datum": 1, "type": "quantitative", "scale": {"domain": [-1, 1], "nice": false}, "axis": null}, "y": {"datum": -0.2, "type": "quantitative", "scale": {"domain": [-5, 5], "nice": false}, "axis": null}, "text": {"field": "a"}}}
       ]}},
      {"transform": [{"filter": "datum.i == 2"}], "facet": {"column": {"field": "f", "type": "nominal", "sort": ["ey", "ex"], "title": "IMA: 2.0000 mm"}}, "spacing": {"column": 0}, "resolve": {"axis": {"x": "independent", "y": "independent"}},
       "spec": {"width": 150, "height": 165, "resolve": {"axis": {"x": "independent", "y": "independent"}}, "layer": [
        {"transform": [{"filter": "datum.w == 'd' && datum.p == 1"}], "mark": {"type": "rule", "color": "#dcadad", "strokeWidth": 1.2}, "encoding": {"y": {"datum": 0, "type": "quantitative", "scale": {"domain": [-5, 5], "nice": false}, "axis": null}}},
        {"transform": [{"filter": "datum.w == 'd' && datum.p == 1"}], "mark": {"type": "rule", "color": "#8e8e8e", "strokeWidth": 2}, "encoding": {"x": {"datum": 0, "type": "quantitative", "scale": {"domain": [-1, 1], "nice": false}, "axis": null}}},
        {"transform": [{"filter": "datum.w == 'd'"}], "mark": {"type": "line", "color": "#1f2c4c", "strokeWidth": 2.2, "interpolate": "monotone"}, "encoding": {"x": {"field": "p", "type": "quantitative", "scale": {"domain": [-1, 1], "nice": false}, "axis": {"orient": "bottom", "values": [-1, -0.8, -0.6, -0.4, -0.2, 0, 0.2, 0.4, 0.6, 0.8, 1], "grid": true, "gridColor": "#d6d6d6", "ticks": false}}, "y": {"field": "e", "type": "quantitative", "scale": {"domain": [-5, 5], "nice": false}, "axis": {"orient": "left", "values": [-5, -4, -3, -2, -1, 0, 1, 2, 3, 4, 5], "grid": true, "gridColor": "#d6d6d6", "ticks": false}}}},
        {"transform": [{"filter": "datum.w == 'g'"}], "mark": {"type": "line", "color": "#4cba63", "strokeWidth": 2.3, "opacity": 0.8, "interpolate": "monotone"}, "encoding": {"x": {"field": "p", "type": "quantitative", "scale": {"domain": [-1, 1], "nice": false}, "axis": {"orient": "top", "values": [-0.8, -0.6, -0.4, -0.2, 0.2, 0.4, 0.6, 0.8], "grid": false, "ticks": true, "tickSize": 6, "tickColor": "#d7a3a3", "offset": -85.5}}, "y": {"field": "e", "type": "quantitative", "scale": {"domain": [-5, 5], "nice": false}, "axis": {"orient": "right", "values": [-4, -3, -2, -1, 1, 2, 3, 4], "grid": false, "ticks": true, "tickSize": 6, "tickWidth": 1.2, "tickColor": "#999999", "offset": -78}}}},
        {"transform": [{"filter": "datum.w == 'd' && datum.p == 1"}], "mark": {"type": "text", "font": "Liberation Serif", "fontSize": 19, "color": "#222222", "baseline": "alphabetic"}, "encoding": {"x": {"datum": 0, "type": "quantitative", "scale": {"domain": [-1, 1], "nice": false}, "axis": null}, "y": {"datum": 3.95, "type": "quantitative", "scale": {"domain": [-5, 5], "nice": false}, "axis": null}, "text": {"field": "f"}}},
        {"transform": [{"filter": "datum.w == 'd' && datum.p == 1"}, {"calculate": "datum.f == 'ey' ? 'Py' : 'Px'", "as": "a"}], "mark": {"type": "text", "font": "Liberation Sans", "fontWeight": "bold", "fontSize": 10, "color": "#1c2742", "align": "right", "baseline": "top"}, "encoding": {"x": {"datum": 1, "type": "quantitative", "scale": {"domain": [-1, 1], "nice": false}, "axis": null}, "y": {"datum": -0.2, "type": "quantitative", "scale": {"domain": [-5, 5], "nice": false}, "axis": null}, "text": {"field": "a"}}}
       ]}},
      {"transform": [{"filter": "datum.i == 2.3"}], "facet": {"column": {"field": "f", "type": "nominal", "sort": ["ey", "ex"], "title": "IMA: 2.3000 mm"}}, "spacing": {"column": 0}, "resolve": {"axis": {"x": "independent", "y": "independent"}},
       "spec": {"width": 150, "height": 165, "resolve": {"axis": {"x": "independent", "y": "independent"}}, "layer": [
        {"transform": [{"filter": "datum.w == 'd' && datum.p == 1"}], "mark": {"type": "rule", "color": "#dcadad", "strokeWidth": 1.2}, "encoding": {"y": {"datum": 0, "type": "quantitative", "scale": {"domain": [-5, 5], "nice": false}, "axis": null}}},
        {"transform": [{"filter": "datum.w == 'd' && datum.p == 1"}], "mark": {"type": "rule", "color": "#8e8e8e", "strokeWidth": 2}, "encoding": {"x": {"datum": 0, "type": "quantitative", "scale": {"domain": [-1, 1], "nice": false}, "axis": null}}},
        {"transform": [{"filter": "datum.w == 'd'"}], "mark": {"type": "line", "color": "#1f2c4c", "strokeWidth": 2.2, "interpolate": "monotone"}, "encoding": {"x": {"field": "p", "type": "quantitative", "scale": {"domain": [-1, 1], "nice": false}, "axis": {"orient": "bottom", "values": [-1, -0.8, -0.6, -0.4, -0.2, 0, 0.2, 0.4, 0.6, 0.8, 1], "grid": true, "gridColor": "#d6d6d6", "ticks": false}}, "y": {"field": "e", "type": "quantitative", "scale": {"domain": [-5, 5], "nice": false}, "axis": {"orient": "left", "values": [-5, -4, -3, -2, -1, 0, 1, 2, 3, 4, 5], "grid": true, "gridColor": "#d6d6d6", "ticks": false}}}},
        {"transform": [{"filter": "datum.w == 'g'"}], "mark": {"type": "line", "color": "#4cba63", "strokeWidth": 2.3, "opacity": 0.8, "interpolate": "monotone"}, "encoding": {"x": {"field": "p", "type": "quantitative", "scale": {"domain": [-1, 1], "nice": false}, "axis": {"orient": "top", "values": [-0.8, -0.6, -0.4, -0.2, 0.2, 0.4, 0.6, 0.8], "grid": false, "ticks": true, "tickSize": 6, "tickColor": "#d7a3a3", "offset": -85.5}}, "y": {"field": "e", "type": "quantitative", "scale": {"domain": [-5, 5], "nice": false}, "axis": {"orient": "right", "values": [-4, -3, -2, -1, 1, 2, 3, 4], "grid": false, "ticks": true, "tickSize": 6, "tickWidth": 1.2, "tickColor": "#999999", "offset": -78}}}},
        {"transform": [{"filter": "datum.w == 'd' && datum.p == 1"}], "mark": {"type": "text", "font": "Liberation Serif", "fontSize": 19, "color": "#222222", "baseline": "alphabetic"}, "encoding": {"x": {"datum": 0, "type": "quantitative", "scale": {"domain": [-1, 1], "nice": false}, "axis": null}, "y": {"datum": 3.95, "type": "quantitative", "scale": {"domain": [-5, 5], "nice": false}, "axis": null}, "text": {"field": "f"}}},
        {"transform": [{"filter": "datum.w == 'd' && datum.p == 1"}, {"calculate": "datum.f == 'ey' ? 'Py' : 'Px'", "as": "a"}], "mark": {"type": "text", "font": "Liberation Sans", "fontWeight": "bold", "fontSize": 10, "color": "#1c2742", "align": "right", "baseline": "top"}, "encoding": {"x": {"datum": 1, "type": "quantitative", "scale": {"domain": [-1, 1], "nice": false}, "axis": null}, "y": {"datum": -0.2, "type": "quantitative", "scale": {"domain": [-5, 5], "nice": false}, "axis": null}, "text": {"field": "a"}}}
       ]}}
    ]}
  ]
}
